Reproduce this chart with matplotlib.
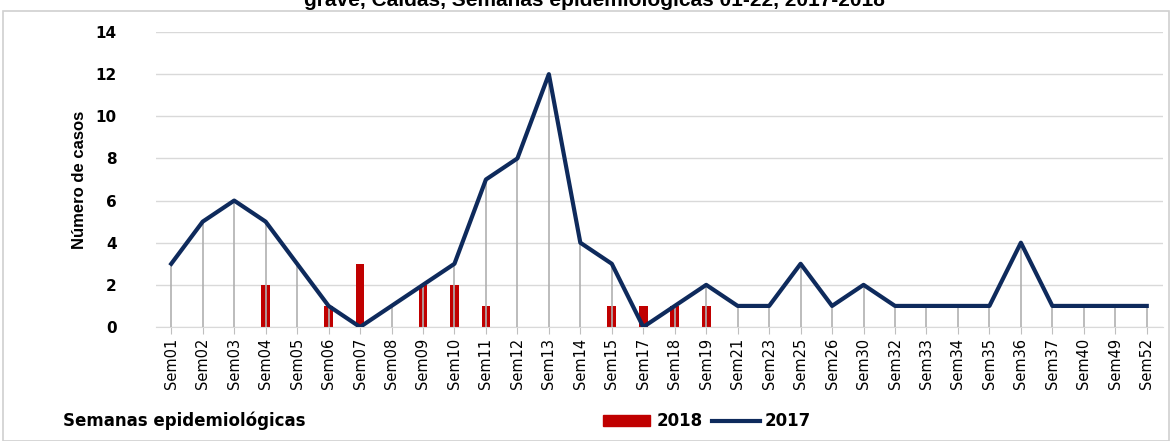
import numpy as np
import matplotlib.pyplot as plt
from matplotlib.patches import Rectangle

semanas = ['Sem01', 'Sem02', 'Sem03', 'Sem04', 'Sem05', 'Sem06', 'Sem07', 'Sem08',
           'Sem09', 'Sem10', 'Sem11', 'Sem12', 'Sem13', 'Sem14', 'Sem15', 'Sem17',
           'Sem18', 'Sem19', 'Sem21', 'Sem23', 'Sem25', 'Sem26', 'Sem30', 'Sem32',
           'Sem33', 'Sem34', 'Sem35', 'Sem36', 'Sem37', 'Sem40', 'Sem49', 'Sem52']
casos_2017 = [3, 5, 6, 5, 3, 1, 0, 1, 2, 3, 7, 8, 12, 4, 3, 0,
              1, 2, 1, 1, 3, 1, 2, 1, 1, 1, 1, 4, 1, 1, 1, 1]
casos_2018 = [0, 0, 0, 2, 0, 1, 3, 0, 2, 2, 1, 0, 0, 0, 1, 1,
              1, 1, 0, 0, 0, 0, 0, 0, 0, 0, 0, 0, 0, 0, 0, 0]
yticks = [0, 2, 4, 6, 8, 10, 12, 14]

fig = plt.figure(figsize=(11.71, 4.41), dpi=100)
ax = fig.add_axes([155.5 / 1171, 1 - 327 / 441, 1007 / 1171, 295 / 441])

x = np.arange(len(semanas))
ax.bar(x, casos_2018, width=0.28, color='#C00000', zorder=2)
ax.vlines(x, 0, casos_2017, color='#B0B0B0', linewidth=1.2, zorder=3)
ax.plot(x, casos_2017, color='#0E2A5C', linewidth=3.0, zorder=4)

ax.set_xlim(-0.5, len(semanas) - 0.5)
ax.set_ylim(0, 14)
ax.set_yticks(yticks)
ax.set_yticklabels([str(v) for v in yticks], fontsize=11, fontweight='bold')
ax.set_xticks(x)
ax.set_xticklabels(semanas, rotation=90, fontsize=10.5, color='black')
ax.tick_params(axis='y', length=0, pad=28)
ax.tick_params(axis='x', length=5, color='#BFBFBF', pad=3)
ax.grid(axis='y', color='#D9D9D9', linewidth=1)
ax.set_axisbelow(True)
for s in ['top', 'right', 'left']:
    ax.spines[s].set_visible(False)
ax.spines['bottom'].set_color('#D9D9D9')
ax.set_ylabel('Número de casos', fontsize=12, family='Liberation Sans',
              fontweight='bold', labelpad=6)

# marco exterior
fig.patches.append(Rectangle((3 / 1171, 0), 1 - 3 / 1171 - 0.002, 1 - 11 / 441,
                             transform=fig.transFigure, fill=False,
                             edgecolor='#D0D0D0', linewidth=1.2))

fig.text(0.508, 1 - 1 / 441, 'grave, Caldas, Semanas epidemiológicas 01-22, 2017-2018',
         ha='center', va='center', fontsize=15, fontweight='bold', family='Liberation Sans')

fig.text(63 / 1171, 1 - 421 / 441, 'Semanas epidemiológicas', fontsize=12,
         fontweight='bold', va='center')

# leyenda
fig.patches.append(Rectangle((603 / 1171, 1 - 426 / 441), 47 / 1171, 11 / 441,
                             transform=fig.transFigure, color='#C00000'))
fig.text(657 / 1171, 1 - 421 / 441, '2018', fontsize=12, fontweight='bold', va='center')
fig.lines.append(plt.Line2D([712 / 1171, 760 / 1171], [1 - 421 / 441, 1 - 421 / 441],
                            transform=fig.transFigure, color='#0E2A5C', linewidth=3.0))
fig.text(765 / 1171, 1 - 421 / 441, '2017', fontsize=12, fontweight='bold', va='center')

fig.savefig('out.png', dpi=100)
